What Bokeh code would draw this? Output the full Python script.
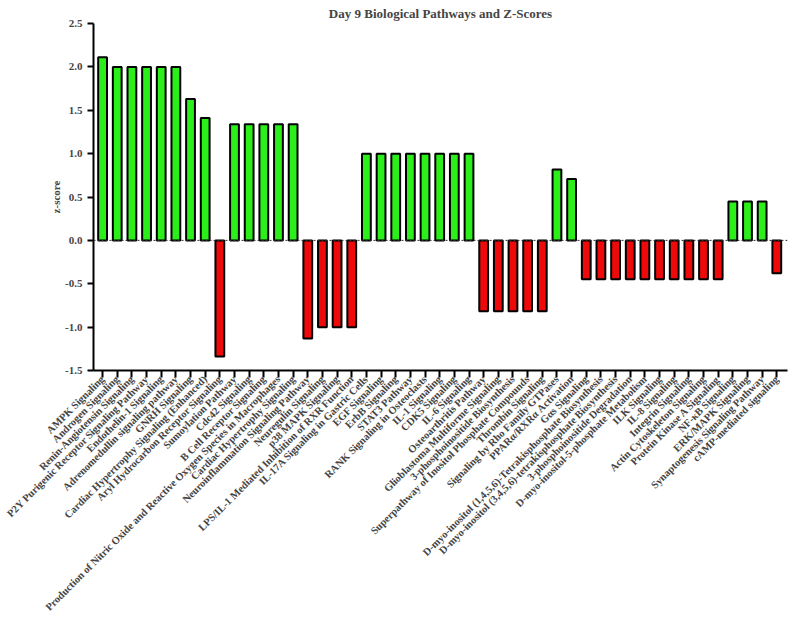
import math
from bokeh.plotting import figure
from bokeh.models import ColumnDataSource, Span, FixedTicker, NumeralTickFormatter, Range1d
from bokeh.embed import file_html
from bokeh.resources import INLINE

pathways = [
    "AMPK Signaling",
    "Androgen Signaling",
    "Renin-Angiotensin Signaling",
    "P2Y Purigenic Receptor Signaling Pathway",
    "Endothelin-1 Signaling",
    "Adrenomedullin signaling pathway",
    "GNRH Signaling",
    "Cardiac Hypertrophy Signaling (Enhanced)",
    "Aryl Hydrocarbon Receptor Signaling",
    "Sumoylation Pathway",
    "Cdc42 Signaling",
    "B Cell Receptor Signaling",
    "Production of Nitric Oxide and Reactive Oxygen Species in Macrophages",
    "Cardiac Hypertrophy Signaling",
    "Neuroinflammation Signaling Pathway",
    "Neuregulin Signaling",
    "p38 MAPK Signaling",
    "LPS/IL-1 Mediated Inhibition of RXR Function",
    "IL-17A Signaling in Gastric Cells",
    "EGF Signaling",
    "ErbB Signaling",
    "STAT3 Pathway",
    "RANK Signaling in Osteoclasts",
    "IL-1 Signaling",
    "CDK5 Signaling",
    "IL-6 Signaling",
    "Osteoarthritis Pathway",
    "Glioblastoma Multiforme Signaling",
    "3-phosphoinositide Biosynthesis",
    "Superpathway of Inositol Phosphate Compounds",
    "Thrombin Signaling",
    "Signaling by Rho Family GTPases",
    "PPARα/RXRα Activation",
    "Gαs Signaling",
    "D-myo-inositol (1,4,5,6)-Tetrakisphosphate Biosynthesis",
    "D-myo-inositol (3,4,5,6)-tetrakisphosphate Biosynthesis",
    "3-phosphoinositide Degradation",
    "D-myo-inositol-5-phosphate Metabolism",
    "ILK Signaling",
    "IL-8 Signaling",
    "Integrin Signaling",
    "Actin Cytoskeleton Signaling",
    "Protein Kinase A Signaling",
    "NF-κB Signaling",
    "ERK/MAPK Signaling",
    "Synaptogenesis Signaling Pathway",
    "cAMP-mediated signaling",
]

zscores = [
    2.11, 2.0, 2.0, 2.0, 2.0, 2.0, 1.63, 1.41,
    -1.34,
    1.34, 1.34, 1.34, 1.34, 1.34,
    -1.13, -1.0, -1.0, -1.0,
    1.0, 1.0, 1.0, 1.0, 1.0, 1.0, 1.0, 1.0,
    -0.816, -0.816, -0.816, -0.816, -0.816,
    0.816, 0.707,
    -0.447, -0.447, -0.447, -0.447, -0.447, -0.447, -0.447, -0.447, -0.447, -0.447,
    0.447, 0.447, 0.447,
    -0.378,
]

y_ticks = [-1.5, -1.0, -0.5, 0.0, 0.5, 1.0, 1.5, 2.0, 2.5]

GREEN = "#2CEE1A"
RED = "#EE0A0A"
FONT = "Liberation Serif"

xs = list(range(len(pathways)))
colors = [GREEN if v >= 0 else RED for v in zscores]
src = ColumnDataSource(dict(x=xs, top=zscores, color=colors, name=pathways))

p = figure(width=796, height=619, output_backend="svg", toolbar_location=None,
           x_range=Range1d(-0.62, len(pathways) - 1 + 0.73),
           y_range=Range1d(y_ticks[0], y_ticks[-1]),
           title="Day 9 Biological Pathways and Z-Scores",
           min_border_left=93, min_border_right=9, min_border_top=0)

p.vbar(x="x", top="top", bottom=0, width=0.6, fill_color="color",
       line_color="black", line_width=2, source=src)

p.add_layout(Span(location=0, dimension="width", line_color="#333333",
                  line_width=1, line_dash="2 2"))

p.outline_line_color = None
p.xgrid.grid_line_color = None
p.ygrid.grid_line_color = None

p.title.align = "center"
p.title.text_font = FONT
p.title.text_font_size = "13px"
p.title.text_font_style = "bold"
p.title.standoff = 6

xa = p.xaxis[0]
xa.ticker = FixedTicker(ticks=xs)
xa.major_label_overrides = {i: n for i, n in enumerate(pathways)}
xa.major_label_orientation = math.pi / 4
xa.major_label_text_font = FONT
xa.major_label_text_font_style = "bold"
xa.major_label_text_font_size = "10.5px"
xa.major_label_standoff = 0
xa.axis_line_width = 2
xa.major_tick_line_width = 2
xa.major_tick_out = 7
xa.major_tick_in = 0
xa.minor_tick_line_color = None

ya = p.yaxis[0]
ya.ticker = FixedTicker(ticks=y_ticks)
ya.formatter = NumeralTickFormatter(format="0.0")
ya.axis_label = "z-score"
ya.axis_label_text_font = FONT
ya.axis_label_text_font_style = "bold"
ya.axis_label_text_font_size = "11px"
ya.axis_label_standoff = 0
ya.major_label_text_font = FONT
ya.major_label_text_font_style = "bold"
ya.major_label_text_font_size = "11px"
ya.axis_line_width = 2
ya.major_tick_line_width = 2
ya.major_tick_out = 6
ya.major_tick_in = 0
ya.minor_tick_line_color = None

open("out.html", "w").write(file_html(p, INLINE))
